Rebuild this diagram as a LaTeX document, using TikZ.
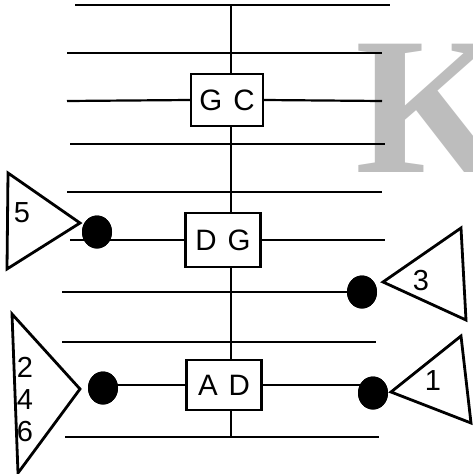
\documentclass[tikz,border=0pt]{standalone}
\usepackage{fontspec}
\setmainfont{Liberation Sans}
\newfontfamily\kfont{Liberation Serif}
\usetikzlibrary{shapes.geometric}
\definecolor{kgray}{HTML}{BDBDBD}
\newcommand{\gapsp}{\hspace{11pt}}
\begin{document}
\begin{tikzpicture}[x=1pt,y=-1pt,
  staff/.style={line width=2.2pt},
  boxnode/.style={draw, line width=2.2pt, inner sep=0pt, fill=white,
    font=\fontsize{29.5}{31}\selectfont},
  blob/.style={ellipse, fill=black, minimum width=30pt, minimum height=33pt, inner sep=0pt},
  tri/.style={line width=2.8pt, line join=miter},
  lbl/.style={font=\fontsize{29}{31}\selectfont, inner sep=0pt}]
\useasboundingbox (0,0) rectangle (472,474);
% watermark letter
\node[anchor=base west, text=kgray, inner sep=0pt,
  font=\kfont\bfseries\fontsize{196}{196}\selectfont] (k) at (355,172) {K};
% boxes
\node[boxnode, minimum width=72pt, minimum height=52pt] (gc) at (227,100) {G\gapsp C};
\node[boxnode, minimum width=75pt, minimum height=54pt] (dg) at (223,240) {D\gapsp G};
\node[boxnode, minimum width=75pt, minimum height=50pt] (ad) at (224,385) {A\gapsp D};
% dots
\node[blob] (d5) at (97,232) {};
\node[blob] (d3) at (362,292) {};
\node[blob] (d1) at (373,393) {};
\node[blob] (d246) at (103,388) {};
% vertical line end points
\coordinate (vtop) at (231,5);
\coordinate (vbot) at (231,437);
% staff end points
\coordinate (a1) at (75,5);   \coordinate (b1) at (390,5);
\coordinate (a2) at (67,53);  \coordinate (b2) at (382,53);
\coordinate (a3) at (67,101); \coordinate (b3) at (382,101);
\coordinate (a4) at (70,144); \coordinate (b4) at (385,144);
\coordinate (a5) at (67,192); \coordinate (b5) at (382,192);
\coordinate (a6) at (70,240); \coordinate (b6) at (385,240);
\coordinate (a7) at (62,292);
\coordinate (a8) at (62,342); \coordinate (b8) at (376,342);
\coordinate (a10) at (65,437); \coordinate (b10) at (379,437);
% staff lines
\draw[staff] (a1) -- (b1);
\draw[staff] (a2) -- (b2);
\draw[staff] (a3) -- (gc.west);
\draw[staff] (gc.east) -- (b3);
\draw[staff] (a4) -- (b4);
\draw[staff] (a5) -- (b5);
\draw[staff] (a6) -- (dg.west);
\draw[staff] (dg.east) -- (b6);
\draw[staff] (a7) -- (d3.center);
\draw[staff] (a8) -- (b8);
\draw[staff] (d246.center |- ad.west) -- (ad.west);
\draw[staff] (ad.east) -- (d1.center |- ad.east);
\draw[staff] (a10) -- (b10);
% vertical line
\draw[staff] (vtop) -- (gc.north -| vtop);
\draw[staff] (gc.south -| vtop) -- (dg.north -| vtop);
\draw[staff] (dg.south -| vtop) -- (ad.north -| vtop);
\draw[staff] (ad.south -| vtop) -- (vbot);
% redraw dots above lines
\fill (d5) ellipse (15pt and 16.5pt);
\fill (d3) ellipse (15pt and 16.5pt);
\fill (d1) ellipse (15pt and 16.5pt);
\fill (d246) ellipse (15pt and 16.5pt);
% triangles
\draw[tri, fill=white] (8,173) -- (80,223) -- (7,269) -- cycle;
\node[lbl] (t5) at (22,213) {5};
\draw[tri, fill=white] (383,282) -- (461,228) -- (466,320) -- cycle;
\node[lbl] (t3) at (421,281) {3};
\draw[tri, fill=white] (391,392) -- (461,336) -- (471,423) -- cycle;
\node[lbl] (t1) at (433,381) {1};
\draw[tri, fill=white] (12,314) -- (80,389) -- (18,473) -- cycle;
\node[lbl] (t2) at (25,367) {2};
\node[lbl] (t4) at (25,400) {4};
\node[lbl] (t6) at (25,432) {6};
\end{tikzpicture}
\end{document}
